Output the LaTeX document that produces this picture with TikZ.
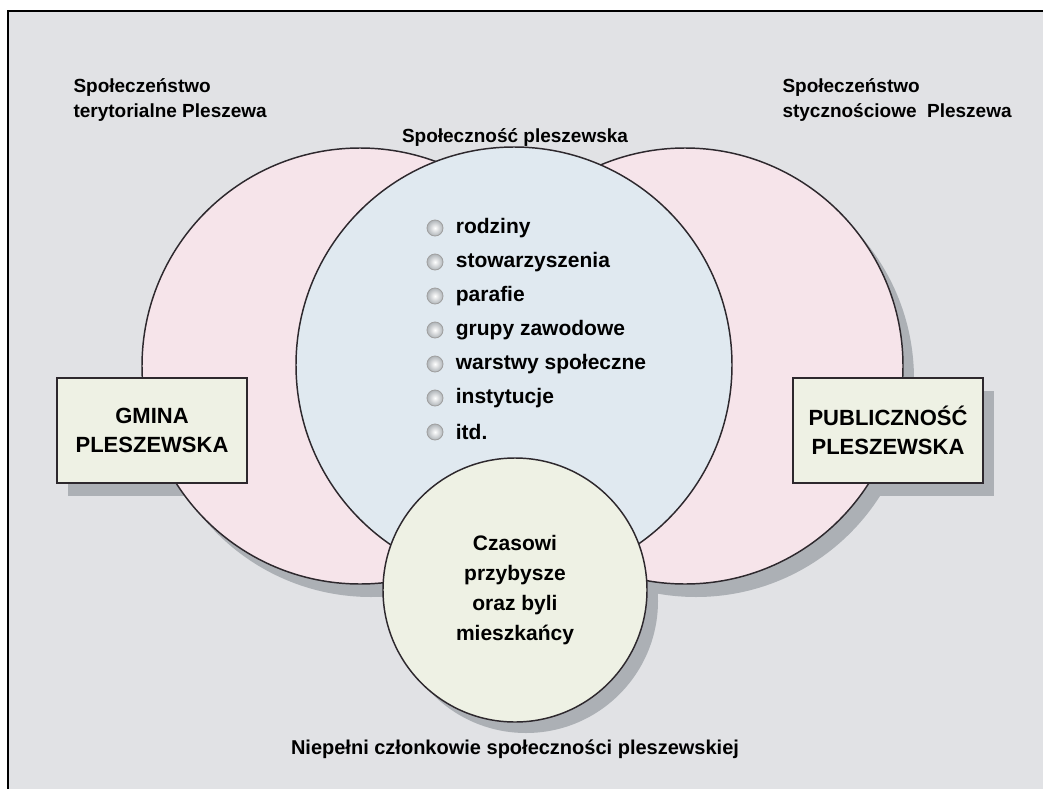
\documentclass[tikz,border=0pt]{standalone}
\usepackage{fontspec}
\setmainfont{Liberation Sans}
\usetikzlibrary{positioning}

\definecolor{bggray}{RGB}{225,226,229}
\definecolor{shadowgray}{RGB}{172,176,181}
\definecolor{edgedark}{RGB}{45,40,45}
\definecolor{pinkfill}{RGB}{246,228,234}
\definecolor{bluefill}{RGB}{224,233,240}
\definecolor{greenfill}{RGB}{238,241,228}
\definecolor{dotgray}{RGB}{175,180,184}

\tikzset{every picture/.style={line width=0.75pt}}
\tikzset{
  ring/.style={circle, draw=edgedark, line width=1.1pt, inner sep=0pt},
  namebox/.style={rectangle, draw=edgedark, line width=1.1pt, fill=greenfill,
    minimum width=142.5pt, minimum height=78.75pt, align=center,
    font=\fontsize{16.5}{21.75}\selectfont\bfseries},
  toplabel/.style={inner sep=0pt, font=\fontsize{14.25}{18.75}\selectfont\bfseries},
  bullet/.style={circle, draw=gray!75, line width=0.6pt, inner color=white, outer color=dotgray,
    minimum size=12pt, inner sep=0pt},
  listitem/.style={inner sep=0pt, anchor=west, font=\fontsize{15.75}{18}\selectfont\bfseries}
}

\begin{document}
\begin{tikzpicture}[x=0.75pt,y=0.75pt,yscale=-1,xscale=1]
	\useasboundingbox (0,0) rectangle (1043,789);

	%Background frame
	\fill [bggray] (8,11) rectangle (1043,789);
	\draw [line width=2pt] (8,789) -- (8,11) -- (1043,11);

	%Shadows
	\fill [shadowgray] (371,379) circle [radius=218];
	\fill [shadowgray] (696,379) circle [radius=218];
	\fill [shadowgray] (525,378) circle [radius=218];
	\fill [shadowgray] (526,601) circle [radius=132];
	\fill [shadowgray] (68,391) rectangle (258,496);
	\fill [shadowgray] (804,391) rectangle (994,496);

	%Shape: Circle
	\node [ring, fill=pinkfill, minimum size=327pt] (territorial) at (360,366) {};
	%Shape: Circle
	\node [ring, fill=pinkfill, minimum size=327pt] (contact) at (685,366) {};
	%Shape: Circle
	\node [ring, fill=bluefill, minimum size=327pt] (community) at (514,365) {};
	%Shape: Circle
	\node [ring, fill=greenfill, minimum size=198pt, align=center,
	  font=\fontsize{15.75}{22.5}\selectfont\bfseries] (partial) at (515,590)
	  {Czasowi\\przybysze\\oraz byli\\mieszkańcy};

	%Shape: Rectangle
	\node [namebox] (gmina) at (152,430.5) {GMINA\\PLESZEWSKA};
	%Shape: Rectangle
	\node [namebox] (publicity) at (888,430.5) {PUBLICZNOŚĆ\\PLESZEWSKA};

	%List
	\foreach \txt [count=\i] in {rodziny, stowarzyszenia, parafie, grupy zawodowe,
	  warstwy społeczne, instytucje, itd.} {
	  \node [bullet] (dot\i) at (435,194+34*\i) {};
	  \node [listitem, right=9pt of dot\i] (item\i) {\txt};
	}

	% Text Node
	\node [toplabel, anchor=west, align=left] (terlabel) at (73,100) {Społeczeństwo\\terytorialne Pleszewa};
	% Text Node
	\node [toplabel] (commlabel) at (515,138) {Społeczność pleszewska};
	% Text Node
	\node [toplabel, anchor=west, align=left] (conlabel) at (782,100) {Społeczeństwo\\stycznościowe\ \ Pleszewa};
	% Text Node
	\node [toplabel, font=\fontsize{15}{18}\selectfont\bfseries] (partlabel) at (515,749) {Niepełni członkowie społeczności pleszewskiej};

\end{tikzpicture}
\end{document}
